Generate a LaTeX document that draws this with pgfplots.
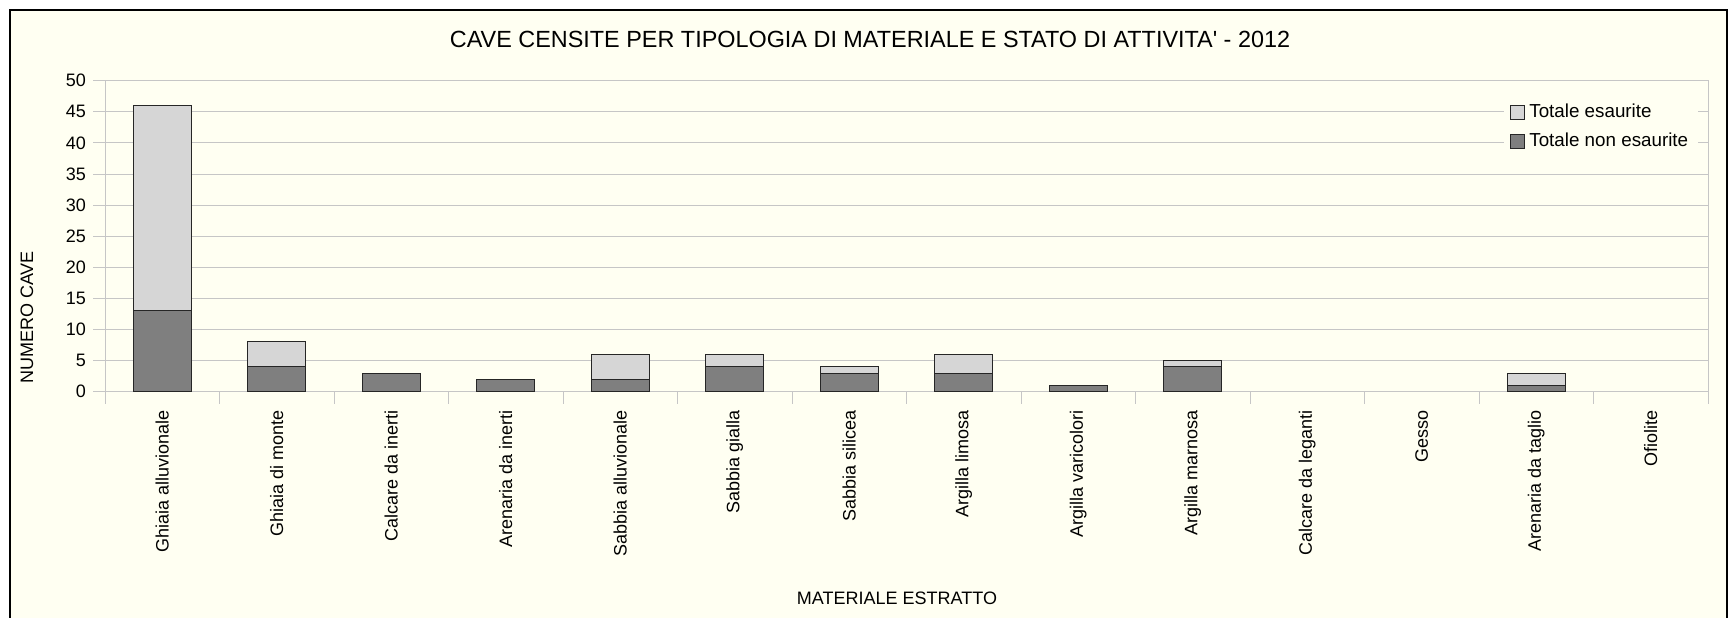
\documentclass[border=0pt]{standalone}
\usepackage{fontspec}
\setmainfont{Liberation Sans}
\usepackage{pgfplots}
\pgfplotsset{compat=1.18}
\definecolor{bg}{RGB}{255,255,242}
\definecolor{lightbar}{RGB}{214,214,214}
\definecolor{darkbar}{RGB}{127,127,127}
\definecolor{gridc}{RGB}{198,198,198}
\newcommand\fs{\fontsize{9}{11}\selectfont}
\newcommand\fsl{\fontsize{9.4}{11}\selectfont}
\begin{document}
\begin{tikzpicture}[x=1pt,y=1pt]
\clip (0,0) rectangle (864.5,308.5);
\fill[white] (0,0) rectangle (864.5,308.5);
\filldraw[fill=bg, draw=black, line width=1pt] (5,-10) rectangle (863.5,303.5);
\begin{axis}[
  at={(52.5pt,112.65pt)}, anchor=south west,
  scale only axis, width=801.5pt, height=155.5pt,
  ybar stacked, bar width=29pt,
  xmin=-0.5, xmax=13.5, ymin=0, ymax=50,
  ytick={0,5,...,50},
  xtick={-0.5,0.5,...,13.5},
  x tick label as interval,
  xticklabels={Ghiaia alluvionale,Ghiaia di monte,Calcare da inerti,Arenaria da inerti,Sabbia alluvionale,Sabbia gialla,Sabbia silicea,Argilla limosa,Argilla varicolori,Argilla marnosa,Calcare da leganti,Gesso,Arenaria da taglio,Ofiolite},
  major tick length=6pt,
  tick align=outside,
  tick style={draw=gridc, line width=0.5pt},
  ymajorgrids, xmajorgrids=false, grid style={draw=gridc, line width=0.5pt},
  axis line style={draw=gridc, line width=0.5pt},
  xtick pos=bottom, ytick pos=left,
  /pgf/number format/assume math mode=true,
  yticklabel style={font=\fs, text=black},
  xticklabel style={font=\fs, rotate=90, anchor=east, inner sep=0pt, text=black},
  xticklabel shift=3pt,
  reverse legend,
  legend cell align=left,
  legend style={at={(0.8727,0.954)}, anchor=north west, draw=none, fill=bg, font=\fsl,
    row sep=1.5pt, nodes={inner sep=2pt, text height=7pt, text depth=2pt}},
  legend image code/.code={\draw[#1] (0pt,-3.5pt) rectangle (7pt,3.5pt);},
]
\addplot[fill=darkbar, draw=black!85, line width=0.5pt] coordinates {(0,13) (1,4) (2,3) (3,2) (4,2) (5,4) (6,3) (7,3) (8,1) (9,4) (10,0) (11,0) (12,1) (13,0)};
\addlegendentry{Totale non esaurite}
\addplot[fill=lightbar, draw=black!85, line width=0.5pt] coordinates {(0,33) (1,4) (2,0) (3,0) (4,4) (5,2) (6,1) (7,3) (8,0) (9,1) (10,0) (11,0) (12,2) (13,0)};
\addlegendentry{Totale esaurite}
\end{axis}
\node[anchor=base, font=\fontsize{11.7}{13}\selectfont] at (435,284.8) {CAVE CENSITE PER TIPOLOGIA DI MATERIALE E STATO DI ATTIVITA\textquotesingle\ - 2012};
\node[rotate=90, font=\fs] at (13.5,149.75) {NUMERO CAVE};
\node[anchor=base, font=\fs] at (448.5,6.5) {MATERIALE ESTRATTO};
\end{tikzpicture}
\end{document}
